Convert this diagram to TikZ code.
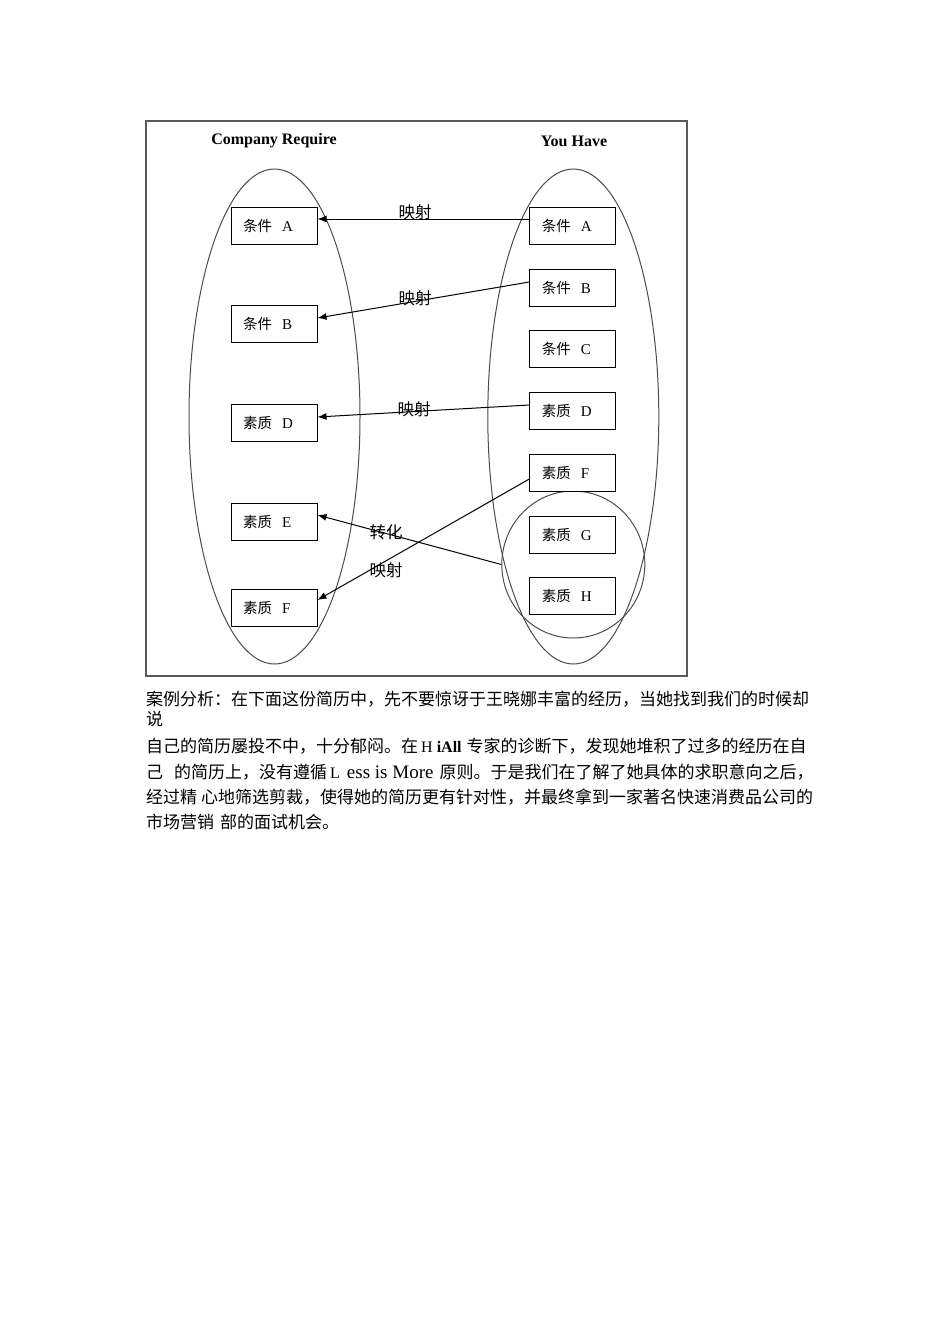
\documentclass[tikz,border=0pt]{standalone}
\usepackage{fontspec}
\setmainfont{Liberation Serif}
\newfontfamily\cjk{Noto Sans CJK SC}
\usetikzlibrary{arrows.meta,calc,shapes.geometric}
\newcommand{\bxt}[2]{{\cjk #1}\hspace{10pt}{\fontsize{15}{17}\selectfont #2}}
\begin{document}
\begin{tikzpicture}[x=1pt,y=-1pt,
 box/.style={draw, fill=white, line width=1pt, minimum width=86pt, minimum height=37pt, text width=62pt, inner xsep=12pt, inner ysep=0pt, align=left, font=\fontsize{14.5}{16}\selectfont},
 oval/.style={draw=black!70, ellipse, inner sep=0pt, line width=1pt},
 arr/.style={-{Latex[length=9pt,width=7pt]}, line width=1pt},
 lab/.style={font=\fontsize{16.5}{18}\selectfont\cjk, inner sep=0pt},
 ttl/.style={font=\bfseries\fontsize{16}{18}\selectfont, inner sep=0pt},
 para/.style={anchor=base west, inner sep=0pt, font=\fontsize{17}{20}\selectfont}]
\useasboundingbox (0,0) rectangle (950,1344);
\fill[white] (0,0) rectangle (950,1344);
% frame
\draw[black!65, line width=1.4pt] (146,121) rectangle (687,676);
% titles
\node[ttl] (t1) at (274,141) {Company Require};
\node[ttl] (t2) at (574,141) {You Have};
% ovals
\node[oval, minimum width=171pt, minimum height=495pt] (L) at (274.5,416.5) {};
\node[oval, minimum width=171pt, minimum height=495pt] (R) at (573.3,416.5) {};
\node[oval, minimum width=143pt, minimum height=147pt] (C) at (573.3,564.5) {};
% left boxes
\node[box] (lA) at (274,225.5) {\bxt{条件}{A}};
\node[box] (lB) at (274,324) {\bxt{条件}{B}};
\node[box] (lD) at (274,423) {\bxt{素质}{D}};
\node[box] (lE) at (274,521.5) {\bxt{素质}{E}};
\node[box] (lF) at (274,607.5) {\bxt{素质}{F}};
% right boxes
\node[box] (rA) at (572.8,225.5) {\bxt{条件}{A}};
\node[box] (rB) at (572.8,287.5) {\bxt{条件}{B}};
\node[box] (rC) at (572.8,348.5) {\bxt{条件}{C}};
\node[box] (rD) at (572.8,410.5) {\bxt{素质}{D}};
\node[box] (rF) at (572.8,472.5) {\bxt{素质}{F}};
\node[box] (rG) at (572.8,534.5) {\bxt{素质}{G}};
\node[box] (rH) at (572.8,595.5) {\bxt{素质}{H}};
% arrows
\draw[arr] ($(rA.west)+(0,-6.5)$) -- ($(lA.east)+(0,-6.5)$);
\draw[arr] ($(rB.west)+(0,-5.5)$) -- ($(lB.east)+(0,-6)$);
\draw[arr] ($(rD.west)+(0,-5.5)$) -- ($(lD.east)+(0,-6)$);
\draw[arr] ($(rF.west)+(0,6.5)$) -- ($(lF.east)+(0,-7.5)$);
\draw[arr] (C.west) -- ($(lE.east)+(0,-6.5)$);
% labels
\node[lab] (m1) at (415,212) {映射};
\node[lab] (m2) at (415,298) {映射};
\node[lab] (m3) at (414,409) {映射};
\node[lab] (m4) at (386,532) {转化};
\node[lab] (m5) at (386,570) {映射};
% paragraph
\node[para] (p1) at (146,705) {\cjk 案例分析：在下面这份简历中，先不要惊讶于王晓娜丰富的经历，当她找到我们的时候却};
\node[para] (p2) at (146,725) {\cjk 说};
\node[para] (p3) at (146,752) {{\cjk 自己的简历屡投不中，十分郁闷。在}\hspace{3pt}{\fontsize{16}{18}\selectfont H}\hspace{4pt}{\fontsize{16}{18}\selectfont\bfseries iAll}\hspace{5pt}{\cjk 专家的诊断下，发现她堆积了过多的经历在自}};
\node[para] (p4) at (146,778) {{\cjk 己}\hspace{11pt}{\cjk 的简历上，没有遵循}\hspace{3pt}{\fontsize{16}{18}\selectfont L}\hspace{7pt}{\fontsize{19}{21}\selectfont ess is More}\hspace{6pt}{\cjk 原则。于是我们在了解了她具体的求职意向之后，}};
\node[para] (p5) at (146,803) {{\cjk 经过精}\hspace{4pt}{\cjk 心地筛选剪裁，使得她的简历更有针对性，并最终拿到一家著名快速消费品公司的}};
\node[para] (p6) at (146,828) {{\cjk 市场营销}\hspace{6pt}{\cjk 部的面试机会。}};
\end{tikzpicture}
\end{document}
